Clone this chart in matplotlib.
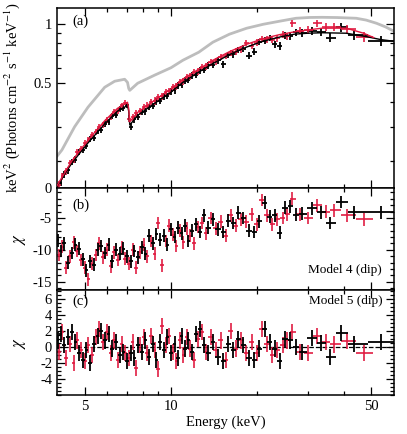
import numpy as np
import matplotlib
matplotlib.use('Agg')
import matplotlib.pyplot as plt
from matplotlib.ticker import FixedLocator, FixedFormatter, NullFormatter

plt.rcParams['font.family'] = ['Liberation Serif', 'DejaVu Serif']
plt.rcParams['mathtext.fontset'] = 'stix'
plt.rcParams['font.size'] = 10.5
plt.rcParams['axes.unicode_minus'] = False

# ---- data ----
# black spectrum (bin centres, keV)
e_blk = [4.02, 4.12, 4.24, 4.37, 4.50, 4.64, 4.78, 4.92, 5.07, 5.22,
         5.38, 5.54, 5.71, 5.88, 6.06, 6.24, 6.43, 6.62, 6.82, 7.02,
         7.23, 7.45, 7.67, 7.90, 8.14, 8.38, 8.63, 8.89, 9.16, 9.43,
         9.71, 10.0, 10.3, 10.6, 10.9, 11.2, 11.5, 11.8, 12.2, 12.6, 13.0,
         13.5, 14.0, 14.6, 15.2, 15.8, 16.5, 17.2, 17.9, 18.7, 19.5,
         20.3, 21.2, 22.1, 23.0, 24.0, 25.0, 26.1, 27.3, 28.6,
         31.1, 33.4, 36.0, 39.3, 43.6, 54.0]
flux_blk = [0.148, 0.155, 0.172, 0.180, 0.199, 0.204, 0.222, 0.228, 0.240, 0.259,
            0.263, 0.284, 0.290, 0.309, 0.318, 0.340, 0.346, 0.368, 0.375, 0.388,
            0.300, 0.328, 0.336, 0.357, 0.360, 0.379, 0.383, 0.404, 0.406, 0.428,
            0.431, 0.455, 0.460, 0.487, 0.490, 0.515, 0.520, 0.548, 0.552, 0.582, 0.585,
            0.618, 0.622, 0.655, 0.625, 0.700, 0.702, 0.738, 0.752, 0.690, 0.725,
            0.812, 0.825, 0.850, 0.790, 0.775, 0.880, 0.872, 0.910, 0.905,
            0.925, 0.910, 0.855, 0.965, 0.880, 0.820]
ferr_blk = [0.006, 0.006, 0.007, 0.007, 0.007, 0.008, 0.008, 0.008,
            0.009, 0.009, 0.010, 0.010, 0.010, 0.011, 0.011,
            0.012, 0.012, 0.013, 0.013, 0.014,
            0.012, 0.013, 0.013, 0.014, 0.014, 0.015, 0.015, 0.016, 0.016, 0.017,
            0.017, 0.018, 0.018, 0.019, 0.019, 0.020, 0.020, 0.021, 0.022, 0.022, 0.023,
            0.024, 0.024, 0.025, 0.026, 0.026, 0.027, 0.028, 0.028, 0.029, 0.030,
            0.031, 0.032, 0.033, 0.034, 0.035, 0.036, 0.037, 0.038, 0.040,
            0.040, 0.042, 0.045, 0.048, 0.045, 0.050]
chi4_blk = [-8.5, -10.2, -9.0, -12.0, -10.5, -9.2, -9.8, -11.5, -13.2, -11.8,
            -12.3, -10.0, -9.4, -10.5, -9.2, -11.8, -10.0, -10.6, -9.8, -11.0,
            -11.8, -10.2, -11.2, -9.6, -10.6, -7.8, -9.0, -7.5, -8.4, -7.8,
            -9.2, -6.8, -8.0, -6.5, -7.4, -6.2, -8.6, -7.0, -6.0, -7.2, -4.6,
            -6.5, -5.2, -6.8, -7.2, -5.4, -5.8, -4.2, -5.0, -7.0, -7.2,
            -5.5, -2.6, -4.8, -4.6, -7.3, -3.4, -3.2, -4.5, -4.3,
            -3.5, -4.1, -5.8, -2.5, -4.1, -4.1]
chi5_blk = [0.8, 1.6, 0.2, 1.2, 1.8, 0.6, -0.8, -1.6, -0.4, -2.0,
            0.4, 1.4, 2.0, 0.8, 1.6, -0.2, 0.6, -1.0, -0.6, -1.8,
            -0.8, -1.4, 0.2, -0.6, 0.8, -1.2, 0.4, -1.6, 0.6, -0.4,
            1.2, -0.8, 0.4, -1.4, 1.4, -0.2, 0.8, -0.6, 1.6, 2.2, 0.2,
            -0.8, 0.6, -1.2, -1.8, 0.4, -0.4, 1.0, 0.2, -1.4, -1.6,
            -0.2, 2.2, 0.6, -0.2, -1.8, 1.0, 0.8, 0.0, -0.6,
            1.1, 0.5, -1.2, 1.7, 0.4, 0.6]

# red spectrum
e_red = [4.06, 4.18, 4.30, 4.43, 4.57, 4.71, 4.85, 5.00, 5.15, 5.30,
         5.46, 5.62, 5.79, 5.97, 6.15, 6.33, 6.52, 6.72, 6.92, 7.13,
         7.34, 7.56, 7.78, 8.02, 8.26, 8.50, 8.76, 9.02, 9.29, 9.57,
         9.86, 10.15, 10.45, 10.75, 11.05, 11.35, 11.65, 12.0, 12.4, 12.8, 13.25,
         13.75, 14.3, 14.9, 15.5, 16.15, 16.85, 17.55, 18.3, 19.1, 19.9,
         20.75, 21.65, 22.55, 23.5, 24.5, 25.4, 26.5,
         28.2, 30.0, 32.4, 34.8, 37.1, 41.1, 47.2]
flux_red = [0.152, 0.168, 0.178, 0.195, 0.203, 0.222, 0.230, 0.248, 0.256, 0.272,
            0.281, 0.298, 0.305, 0.326, 0.335, 0.356, 0.362, 0.385, 0.398, 0.330,
            0.335, 0.352, 0.360, 0.378, 0.384, 0.400, 0.406, 0.425, 0.430, 0.450,
            0.455, 0.478, 0.482, 0.508, 0.512, 0.538, 0.542, 0.570, 0.575, 0.605, 0.610,
            0.640, 0.648, 0.680, 0.688, 0.715, 0.725, 0.745, 0.800, 0.775, 0.805,
            0.840, 0.840, 0.835, 0.850, 0.885, 0.870, 1.010,
            0.925, 0.935, 1.010, 0.970, 0.970, 0.950, 0.860]
ferr_red = [0.006, 0.007, 0.007, 0.007, 0.008, 0.008, 0.008,
            0.009, 0.009, 0.010, 0.010, 0.011, 0.011, 0.011,
            0.012, 0.012, 0.013, 0.013,
            0.013, 0.013, 0.014, 0.014, 0.015, 0.015, 0.016, 0.016, 0.017, 0.017, 0.018,
            0.018, 0.019, 0.019, 0.020, 0.020, 0.021, 0.021, 0.022, 0.022, 0.023, 0.024, 0.024,
            0.025, 0.025, 0.026, 0.027, 0.027, 0.028, 0.029, 0.029, 0.030, 0.031,
            0.032, 0.033, 0.034, 0.035, 0.036, 0.037, 0.038,
            0.038, 0.040, 0.042, 0.044, 0.044, 0.046, 0.050]
chi4_red = [-10.8, -9.5, -12.8, -11.0, -8.8, -10.2, -11.6, -12.8, -14.6, -12.2,
            -10.8, -9.0, -11.2, -10.0, -12.6, -10.4, -11.6, -9.6, -11.4, -12.2,
            -10.0, -12.8, -10.4, -9.2, -11.0, -8.6, -10.6, -5.8, -12.4, -8.6,
            -6.2, -7.6, -9.4, -7.0, -8.8, -6.6, -7.8, -9.0, -6.4, -5.8, -7.4,
            -5.0, -6.6, -5.6, -7.8, -4.6, -6.2, -5.2, -5.6, -4.4, -6.0,
            -2.2, -4.6, -6.0, -5.2, -5.0, -4.4, -2.0,
            -4.4, -5.0, -3.0, -4.0, -3.8, -4.6, -5.2]
chi5_red = [-0.6, 1.8, -1.4, 0.4, -2.0, 0.8, -0.4, -1.8, 0.2, -1.0,
            1.2, 2.2, 0.6, 1.8, -0.8, 0.8, -1.6, 0.4, -0.8, -1.4,
            0.6, -2.6, 0.2, 1.2, -0.8, 1.4, -0.4, -2.8, 2.6, 0.2,
            1.4, -0.6, -1.8, 0.8, -1.0, 1.2, -0.2, -1.6, 1.0, 1.8, -0.6,
            1.2, -0.4, 0.8, -1.6, 2.0, -0.2, 0.8, -0.8, 0.6, -0.8,
            2.2, 0.4, -1.0, -0.4, 0.2, 0.8, 1.9,
            -0.6, -0.8, 1.3, 0.6, 0.3, 0.7, -0.8]

# model curves for panel (a)
e_mod_blk = [3.95, 4.5, 5.12, 5.87, 6.5, 7.05, 7.12, 7.18, 7.65, 8.77, 10.0, 11.0,
             12.5, 14.0, 16.0, 18.35, 21.0, 23.9, 27.0, 30.0, 33.7, 40.9, 48.0, 54.0, 59.5]
mod_blk = [0.145, 0.195, 0.247, 0.31, 0.36, 0.385, 0.36, 0.306, 0.343, 0.395, 0.45, 0.505,
           0.57, 0.63, 0.70, 0.765, 0.82, 0.86, 0.89, 0.90, 0.905, 0.90, 0.865, 0.835, 0.82]
e_mod_red = [4.0, 4.5, 5.12, 5.87, 6.5, 7.05, 7.12, 7.18, 7.65, 8.77, 10.0, 11.0,
             12.5, 14.0, 16.0, 18.35, 21.0, 23.9, 27.0, 30.0, 33.7, 40.9, 47.0, 51.0]
mod_red = [0.15, 0.20, 0.255, 0.322, 0.372, 0.40, 0.37, 0.318, 0.355, 0.41, 0.468, 0.525,
           0.59, 0.655, 0.725, 0.79, 0.845, 0.885, 0.915, 0.935, 0.955, 0.955, 0.90, 0.855]
e_grey = [3.9, 4.0, 4.16, 4.61, 5.13, 5.87, 6.36, 6.89, 7.05, 7.12, 7.18, 7.65, 8.77,
          10.0, 11.0, 12.5, 14.0, 16.0, 18.35, 21.0, 23.9, 27.3, 30.5, 33.7, 38.0,
          44.3, 48.0, 52.1, 56.0, 61.0]
grey = [0.208, 0.212, 0.228, 0.30, 0.377, 0.477, 0.512, 0.524, 0.505, 0.47, 0.46, 0.50, 0.55,
        0.60, 0.655, 0.72, 0.81, 0.89, 0.954, 1.00, 1.036, 1.073, 1.083, 1.085, 1.082,
        1.073, 1.05, 1.012, 0.97, 0.91]

RED = '#e0193f'
LW = 1.3


def bin_halfwidths(e):
    e = np.asarray(e, dtype=float)
    mid = np.sqrt(e[1:] * e[:-1])
    lo = np.concatenate([[e[0] ** 2 / mid[0]], mid])
    hi = np.concatenate([mid, [e[-1] ** 2 / mid[-1]]])
    return np.vstack([e - lo, hi - e])


xerr_blk = bin_halfwidths(e_blk)
xerr_red = bin_halfwidths(e_red)

fig = plt.figure(figsize=(4.07, 4.34), dpi=100)
ax_a = fig.add_axes([0.140, 0.5668, 0.828, 0.4147])
ax_b = fig.add_axes([0.140, 0.3318, 0.828, 0.2350])
ax_c = fig.add_axes([0.140, 0.0899, 0.828, 0.2419])

for ax in (ax_a, ax_b, ax_c):
    ax.set_xscale('log')
    ax.set_xlim(4, 60)
    ax.xaxis.set_major_locator(FixedLocator([5, 10, 50]))
    ax.xaxis.set_minor_locator(FixedLocator([6, 7, 8, 9, 20, 30, 40]))
    ax.xaxis.set_minor_formatter(NullFormatter())
    ax.tick_params(which='both', direction='in', top=True, right=True, width=0.9)
    ax.tick_params(which='major', length=6)
    ax.tick_params(which='minor', length=3)
    for s in ax.spines.values():
        s.set_linewidth(1.1)
    if ax is not ax_c:
        ax.xaxis.set_major_formatter(NullFormatter())

ax_c.xaxis.set_major_formatter(FixedFormatter(['5', '10', '50']))

# panel (a)
ax_a.plot(e_grey, grey, color='#bdbdbd', lw=2.0, zorder=1)
ax_a.errorbar(e_blk, flux_blk, xerr=xerr_blk, yerr=ferr_blk, fmt='none',
              ecolor='black', elinewidth=LW, zorder=2)
ax_a.errorbar(e_red, flux_red, xerr=xerr_red, yerr=ferr_red, fmt='none',
              ecolor=RED, elinewidth=LW, alpha=0.9, zorder=3)
ax_a.plot(e_mod_blk, mod_blk, color='black', lw=1.0, zorder=4)
ax_a.plot(e_mod_red, mod_red, color=RED, lw=1.0, zorder=4)
ax_a.set_yscale('log')
ax_a.set_ylim(0.146, 1.21)
ax_a.yaxis.set_major_locator(FixedLocator([0.146, 0.5, 1.0]))
ax_a.yaxis.set_major_formatter(FixedFormatter(['0', '0.5', '1']))
ax_a.yaxis.set_minor_locator(FixedLocator([0.2, 0.3, 0.4, 0.6, 0.7, 0.8, 0.9]))
ax_a.yaxis.set_minor_formatter(NullFormatter())
ax_a.set_ylabel(r'keV$^2$ (Photons cm$^{-2}$ s$^{-1}$ keV$^{-1}$)', fontsize=10.5)
ax_a.yaxis.set_label_coords(-0.105, 0.5)
ax_a.text(0.045, 0.905, '(a)', transform=ax_a.transAxes, fontsize=10.5)

# panel (b)
ax_b.errorbar(e_red, chi4_red, xerr=xerr_red, yerr=1.0, fmt='none',
              ecolor=RED, elinewidth=LW, alpha=0.9, zorder=2)
ax_b.errorbar(e_blk, chi4_blk, xerr=xerr_blk, yerr=1.0, fmt='none',
              ecolor='black', elinewidth=LW, zorder=3)
ax_b.set_ylim(-16.3, -0.3)
ax_b.yaxis.set_major_locator(FixedLocator([-15, -10, -5]))
ax_b.yaxis.set_minor_locator(FixedLocator(np.arange(-16, 0, 1)))
ax_b.set_ylabel(r'$\chi$', fontsize=12)
ax_b.yaxis.set_label_coords(-0.085, 0.5)
ax_b.text(0.045, 0.80, '(b)', transform=ax_b.transAxes, fontsize=10.5)
ax_b.text(0.965, 0.17, 'Model 4 (dip)', transform=ax_b.transAxes, fontsize=9.5, ha='right')

# panel (c)
ax_c.axhline(0, color='black', lw=0.9, ls='--', zorder=1)
ax_c.errorbar(e_red, chi5_red, xerr=xerr_red, yerr=1.0, fmt='none',
              ecolor=RED, elinewidth=LW, alpha=0.9, zorder=2)
ax_c.errorbar(e_blk, chi5_blk, xerr=xerr_blk, yerr=1.0, fmt='none',
              ecolor='black', elinewidth=LW, zorder=3)
ax_c.set_ylim(-6.0, 7.1)
ax_c.yaxis.set_major_locator(FixedLocator([-4, -2, 0, 2, 4, 6]))
ax_c.yaxis.set_minor_locator(FixedLocator(np.arange(-6, 7.01, 0.5)))
ax_c.set_ylabel(r'$\chi$', fontsize=12)
ax_c.yaxis.set_label_coords(-0.085, 0.5)
ax_c.text(0.045, 0.86, '(c)', transform=ax_c.transAxes, fontsize=10.5)
ax_c.text(0.965, 0.87, 'Model 5 (dip)', transform=ax_c.transAxes, fontsize=9.5, ha='right')
ax_c.set_xlabel('Energy (keV)', fontsize=10.5, labelpad=2)

fig.savefig('out.png', dpi=100)
